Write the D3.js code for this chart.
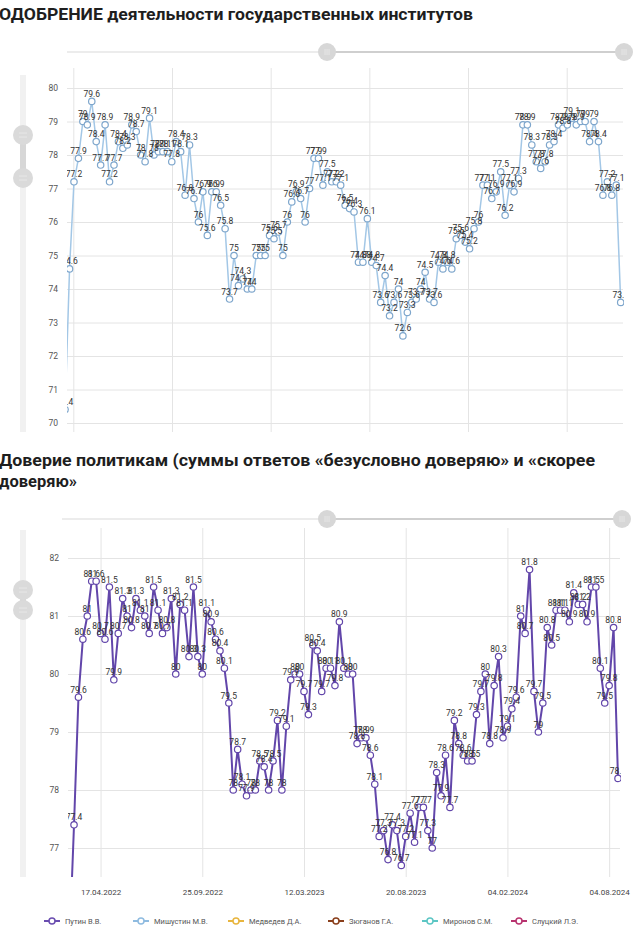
<!DOCTYPE html>
<html><head><meta charset="utf-8">
<script src="https://cdn.jsdelivr.net/npm/d3@7"></script>
<style>
body{margin:0;background:#fff;}
svg{display:block;font-family:Roboto,"Noto Sans",sans-serif;}
</style></head><body>
<svg id="c" width="640" height="933"></svg>
<script>
// ---------- DATA ----------
const title1 = "ОДОБРЕНИЕ деятельности государственных институтов";
const title2a = "Доверие политикам (суммы ответов «безусловно доверяю» и «скорее";
const title2b = "доверяю»";

const approval = [70.4, 74.6, 77.2, 77.9, 79.0, 78.9, 79.6, 78.4, 77.7, 78.9,
 77.2, 77.7, 78.4, 78.2, 78.3, 78.9, 78.7, 78.0, 77.8, 79.1,
 78.0, 78.1, 78.1, 78.1, 77.8, 78.4, 78.1, 76.8, 78.3, 76.7,
 76.0, 76.9, 75.6, 76.9, 76.9, 76.5, 75.8, 73.7, 75.0, 74.1,
 74.3, 74.0, 74.0, 75.0, 75.0, 75.0, 75.6, 75.5, 75.7, 75.0,
 76.0, 76.6, 76.9, 76.7, 76.0, 77.0, 77.9, 77.9, 77.1, 77.5,
 77.2, 77.2, 77.1, 76.5, 76.4, 76.3, 74.8, 74.8, 76.1, 74.8,
 74.7, 73.6, 74.4, 73.2, 73.6, 74.0, 72.6, 73.3, 73.6, 73.7,
 74.0, 74.5, 73.7, 73.6, 74.8, 74.6, 74.8, 74.6, 75.5, 75.6,
 75.4, 75.2, 75.8, 76.0, 77.1, 77.1, 76.7, 76.9, 77.5, 76.2,
 77.1, 76.9, 77.3, 78.9, 78.9, 78.3, 77.8, 77.6, 77.8, 78.3,
 78.4, 78.9, 78.8, 78.9, 79.1, 78.9, 79.0, 79.0, 78.4, 79.0,
 78.4, 76.8, 77.2, 76.8, 77.1, 73.6];

const trustPutin = [75.4, 77.4, 79.6, 80.6, 81.0, 81.6, 81.6, 80.7, 80.6, 81.5,
 79.9, 80.7, 81.3, 81.0, 80.8, 81.3, 81.1, 81.0, 80.7, 81.5,
 81.1, 80.7, 80.8, 81.3, 80.0, 81.2, 81.1, 80.3, 81.5, 80.3,
 80.0, 81.1, 80.9, 80.6, 80.4, 80.1, 79.5, 78.0, 78.7, 78.1,
 77.9, 78.0, 78.0, 78.5, 78.4, 78.0, 78.5, 79.2, 78.0, 79.1,
 79.9, 80.0, 80.0, 79.7, 79.3, 80.5, 80.4, 79.7, 80.1, 80.1,
 79.8, 80.9, 80.1, 80.0, 80.0, 78.8, 78.9, 78.9, 78.6, 78.1,
 77.2, 77.3, 76.8, 77.4, 77.3, 76.7, 77.2, 77.6, 77.1, 77.7,
 77.7, 77.3, 77.0, 78.3, 77.9, 78.6, 77.7, 79.2, 78.8, 78.6,
 78.5, 78.5, 79.3, 79.7, 80.0, 78.8, 79.8, 80.3, 78.9, 79.1,
 79.4, 79.6, 81.0, 80.7, 81.8, 79.7, 79.0, 79.5, 80.8, 80.5,
 81.1, 81.1, 81.1, 80.9, 81.4, 81.2, 81.2, 80.9, 81.5, 81.5,
 80.1, 79.5, 79.8, 80.8, 78.2];

const yTicks1 = [70, 71, 72, 73, 74, 75, 76, 77, 78, 79, 80];
const yTicks2 = [77, 78, 79, 80, 81, 82];
const dateLabels = ["17.04.2022", "25.09.2022", "12.03.2023", "20.08.2023", "04.02.2024", "04.08.2024"];
const legendNames = ["Путин В.В.", "Мишустин М.В.", "Медведев Д.А.", "Зюганов Г.А.", "Миронов С.М.", "Слуцкий Л.Э."];

// ---------- LAYOUT / STYLE ----------
const legendColors = ["#6a4db0", "#8fbbe0", "#e8b53e", "#8a3f1c", "#5cc6c4", "#b8336f"];
const legendX = [52, 141, 236, 336, 430, 519];
const dateStart = 7, dateStep = 23;       // category index of first date label, label interval
const grid1Start = 1.85, grid1Step = 22.2; // vertical grid of chart 1 (category units)

const svg = d3.select("#c");

function title(txt, y, len){
  svg.append("text").attr("x", -1).attr("y", y).text(txt)
    .attr("font-size", 16.5).attr("font-weight", 700).attr("fill", "#1e1e1e")
    .attr("textLength", len).attr("lengthAdjust", "spacingAndGlyphs");
}
title(title1, 20, 474);
title(title2a, 466, 596);
title(title2b, 487, 78);

function hSlider(y, x0, h1, h2){
  svg.append("line").attr("x1", x0).attr("x2", h1).attr("y1", y).attr("y2", y)
    .attr("stroke", "#ececec").attr("stroke-width", 2);
  svg.append("line").attr("x1", h1).attr("x2", h2).attr("y1", y).attr("y2", y)
    .attr("stroke", "#cfcfcf").attr("stroke-width", 2);
  [h1, h2].forEach(cx => handle(cx, y));
}
function handle(cx, cy){
  svg.append("circle").attr("cx", cx).attr("cy", cy).attr("r", 9).attr("fill", "#d7d7d7");
  [-2, 0, 2].forEach(dx => svg.append("line").attr("x1", cx+dx).attr("x2", cx+dx)
    .attr("y1", cy-3).attr("y2", cy+3).attr("stroke", "#ececec").attr("stroke-width", 0.7));
}
function vSlider(x, y0, y1, h1, h2){
  svg.append("line").attr("x1", x).attr("x2", x).attr("y1", y0).attr("y2", y1)
    .attr("stroke", "#f1f1f1").attr("stroke-width", 6);
  svg.append("line").attr("x1", x).attr("x2", x).attr("y1", h1).attr("y2", h2)
    .attr("stroke", "#d7d7d7").attr("stroke-width", 6);
  svg.append("circle").attr("cx", x).attr("cy", h1).attr("r", 10).attr("fill", "#dadada");
  svg.append("circle").attr("cx", x).attr("cy", h2).attr("r", 10).attr("fill", "#dadada");
  [h1, h2].forEach(cy => [-2, 2].forEach(dy => svg.append("line")
    .attr("x1", x-4).attr("x2", x+4).attr("y1", cy+dy).attr("y2", cy+dy)
    .attr("stroke", "#ededed").attr("stroke-width", 0.7)));
}

hSlider(52, 67, 327, 624);
vSlider(23, 75, 432, 135, 178);
hSlider(519, 62, 327, 622);
vSlider(23, 530, 877, 590, 610);

function chart(o){
  const g = svg.append("g");
  const n = o.values.length;
  const x = d3.scaleLinear().domain([0, n - 1]).range(o.xr);
  const y = d3.scaleLinear().domain(o.yd).range(o.yr);
  const yMin = y.invert(o.bottom);

  // horizontal gridlines + y labels
  const ya = g.append("g").attr("transform", `translate(${o.left},0)`)
    .call(d3.axisLeft(y).tickValues(o.yTicks).tickSize(-(o.right - o.left)).tickPadding(9)
      .tickFormat(d3.format("d")));
  ya.select(".domain").remove();
  ya.selectAll("line").attr("stroke", "#e4e4e4");
  ya.selectAll("text").attr("fill", "#555").attr("font-size", 8.5).attr("font-family", "Roboto,sans-serif");

  // vertical gridlines (+ date labels)
  const xa = g.append("g").attr("transform", `translate(0,${o.bottom})`)
    .call(d3.axisBottom(x).tickValues(o.vIdx).tickSize(-(o.bottom - o.top)).tickPadding(12)
      .tickFormat((d, i) => o.vLabels ? o.vLabels[i] : ""));
  xa.select(".domain").remove();
  xa.selectAll("line").attr("stroke", "#e4e4e4");
  xa.selectAll("text").attr("fill", "#444").attr("font-size", 8).attr("font-family", "Roboto,sans-serif");

  const cid = "clip" + o.id;
  svg.append("clipPath").attr("id", cid).append("rect")
    .attr("x", o.left).attr("y", o.top - 20).attr("width", o.clipRight - o.left).attr("height", o.bottom - o.top + 20);
  const pg = g.append("g").attr("clip-path", `url(#${cid})`);

  pg.append("path").datum(o.values)
    .attr("d", d3.line().x((d, i) => x(i)).y(d => y(d)))
    .attr("fill", "none").attr("stroke", o.line).attr("stroke-width", o.lw).attr("stroke-linejoin", "round");
  const pts = o.values.map((v, i) => ({v, i})).filter(d => d.v >= yMin);
  pg.selectAll("circle.pt").data(pts).join("circle").attr("class", "pt")
    .attr("cx", d => x(d.i)).attr("cy", d => y(d.v)).attr("r", 3.2)
    .attr("fill", "#fff").attr("stroke", o.pt).attr("stroke-width", 1.2);
  pg.selectAll("text.lb").data(pts).join("text").attr("class", "lb")
    .attr("x", d => x(d.i)).attr("y", d => y(d.v) - 4.5)
    .attr("text-anchor", "middle").attr("font-size", 8.5).attr("fill", "#333")
    .text(d => String(d.v));
}

chart({
  id: 1, values: approval, yd: [70, 80], yr: [423, 88], xr: [65.1, 620.7],
  left: 67, right: 623, clipRight: 624, top: 68, bottom: 432,
  yTicks: yTicks1, vIdx: d3.range(6).map(k => grid1Start + k * grid1Step), vLabels: null,
  line: "#a3c7e6", pt: "#7ea6cc", lw: 1.5
});

chart({
  id: 2, values: trustPutin, yd: [77, 82], yr: [848, 558], xr: [69.6, 618],
  left: 68, right: 620, clipRight: 621, top: 528, bottom: 877,
  yTicks: yTicks2, vIdx: dateLabels.map((d, k) => dateStart + k * dateStep), vLabels: dateLabels,
  line: "#6246aa", pt: "#6246aa", lw: 2
});

// legend
const lg = svg.append("g").selectAll("g").data(legendNames).join("g")
  .attr("transform", (d, i) => `translate(${legendX[i]},921)`);
lg.append("line").attr("x1", -8).attr("x2", 8).attr("stroke", (d, i) => legendColors[i]).attr("stroke-width", 2);
lg.append("circle").attr("r", 3).attr("fill", "#fff").attr("stroke", (d, i) => legendColors[i]).attr("stroke-width", 1.5);
lg.append("text").attr("x", 13).attr("dy", "0.35em").attr("font-size", 7.5).attr("fill", "#555").text(d => d);
</script>
</body></html>
